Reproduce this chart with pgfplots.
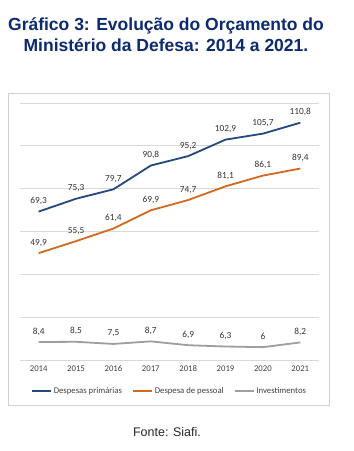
\documentclass[border=0pt]{standalone}
\usepackage{pgfplots}
\pgfplotsset{compat=1.18}
\usepackage{fontspec}
\setmainfont{Carlito}
\newfontfamily\titlefont{Liberation Sans}
\definecolor{cblue}{HTML}{24487F}
\definecolor{corange}{HTML}{D2691E}
\definecolor{cgray}{HTML}{9E9E9E}
\definecolor{ctitle}{HTML}{0B2A6F}
\definecolor{cgrid}{HTML}{D9D9D9}
\definecolor{cframe}{HTML}{D0D0D0}
\begin{document}
\begin{tikzpicture}[x=1pt,y=1pt]
\fill[white] (0,0) rectangle (354,451);
\node[font=\titlefont\bfseries\fontsize{17.5}{21}\selectfont, text=ctitle, align=center] at (166,416) {Gráfico 3: Evolução do Orçamento do\\Ministério da Defesa: 2014 a 2021.};
\draw[cframe, line width=0.8pt] (8,46) rectangle (329,358);
\begin{axis}[
  at={(20pt,91pt)}, anchor=south west,
  scale only axis, width=299pt, height=257pt,
  xmin=2013.5, xmax=2021.5, ymin=0, ymax=120,
  xtick={2014,...,2021}, ytick={0,20,...,120},
  yticklabels={}, axis line style={draw=none},
  major tick length=0pt,
  ymajorgrids, grid style={cgrid, line width=0.8pt},
  xticklabel style={font=\fontsize{8.7}{10}\selectfont, text=black!75, yshift=-2pt},
  /pgf/number format/assume math mode=true,
  x tick label style={/pgf/number format/1000 sep={}},
  nodes near coords,
  /pgf/number format/use comma,
  /pgf/number format/1000 sep={},
  every node near coord/.append style={font=\fontsize{9.3}{11}\selectfont, text=black!80, anchor=base, yshift=8pt, inner sep=0pt},
  legend style={at={(axis description cs:0.5,-0.1206)}, anchor=center, legend columns=3, draw=none, fill=none,
    font=\fontsize{8.7}{10}\selectfont, text=black!75, /tikz/every even column/.append style={column sep=8pt}},
  legend image code/.code={\draw[#1] (0pt,0pt) -- (19pt,0pt);},
]
\addplot[cblue, line width=1.8pt] coordinates {(2014,69.3) (2015,75.3) (2016,79.7) (2017,90.8) (2018,95.2) (2019,102.9) (2020,105.7) (2021,110.8)};
\addlegendentry{Despesas primárias}
\addplot[corange, line width=1.8pt] coordinates {(2014,49.9) (2015,55.5) (2016,61.4) (2017,69.9) (2018,74.7) (2019,81.1) (2020,86.1) (2021,89.4)};
\addlegendentry{Despesa de pessoal}
\addplot[cgray, line width=1.8pt] coordinates {(2014,8.4) (2015,8.5) (2016,7.5) (2017,8.7) (2018,6.9) (2019,6.3) (2020,6) (2021,8.2)};
\addlegendentry{Investimentos}
\end{axis}
\node[font=\titlefont\fontsize{12.5}{14}\selectfont, text=black!85] at (167,19) {Fonte: Siafi.};
\end{tikzpicture}
\end{document}
